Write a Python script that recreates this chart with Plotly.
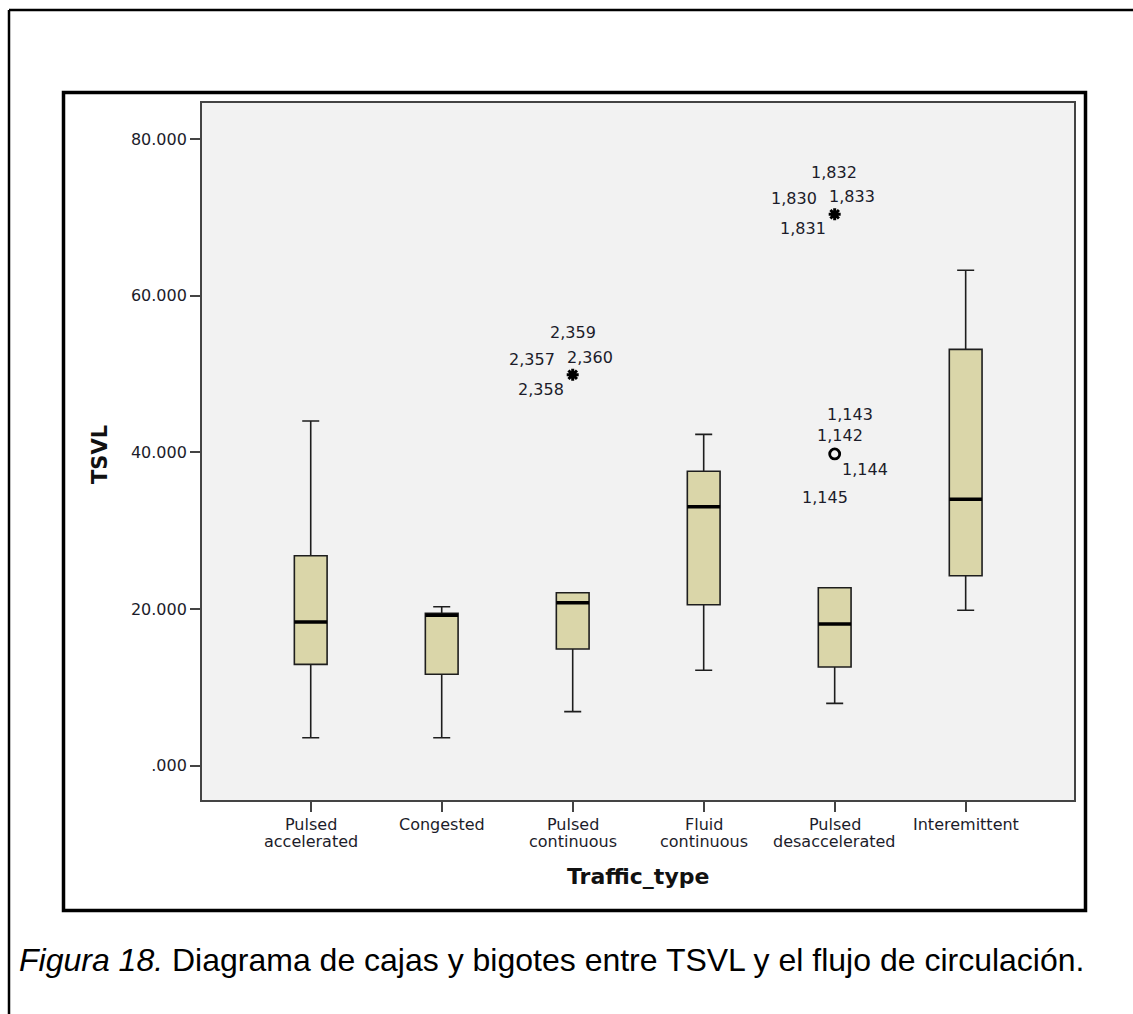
import plotly.graph_objects as go

# ---------------- data ----------------
categories = ["Pulsed accelerated", "Congested", "Pulsed continuous",
              "Fluid continuous", "Pulsed desaccelerated", "Interemittent"]
label_line1 = ["Pulsed", "Congested", "Pulsed", "Fluid", "Pulsed", "Interemittent"]
label_line2 = ["accelerated", "", "continuous", "continuous", "desaccelerated", ""]
lower_whisker = [3.57, 3.57, 6.9, 12.18, 7.96, 19.84]
q1_vals = [12.94, 11.67, 14.9, 20.55, 12.6, 24.25]
median_vals = [18.34, 19.2, 20.8, 33.06, 18.09, 34.0]
q3_vals = [26.8, 19.45, 22.08, 37.58, 22.72, 53.15]
upper_whisker = [44.0, 20.3, 22.08, 42.3, 22.72, 63.24]

outlier_cat = ["Pulsed continuous", "Pulsed desaccelerated", "Pulsed desaccelerated"]
outlier_val = [49.9, 70.4, 39.8]
outlier_kind = ["extreme", "extreme", "mild"]
outlier_ids = [["2,359", "2,357", "2,360", "2,358"],
               ["1,832", "1,830", "1,833", "1,831"],
               ["1,143", "1,142", "1,144", "1,145"]]

y_tickvals = [0, 20, 40, 60, 80]
y_ticktext = [".000", "20.000", "40.000", "60.000", "80.000"]

x_title = "Traffic_type"
y_title = "TSVL"
caption = "<i>Figura 18.</i> Diagrama de cajas y bigotes entre TSVL y el flujo de circulación."

# ---------------- layout helpers ----------------
W, H = 1133, 1014
ML, MR, MT, MB = 202, 59, 103, 214
PW, PH = W - ML - MR, H - MT - MB


def px2x(px):
    return (px - ML) / PW


def py2y(py):
    return (H - MB - py) / PH


pos = list(range(len(categories)))
cat_index = {c: i for i, c in enumerate(categories)}
BOX_W = 0.25
TEXT_COL = "#1c1c2a"

fig = go.Figure()

fig.add_trace(go.Box(
    x=pos, q1=q1_vals, median=median_vals, q3=q3_vals,
    lowerfence=lower_whisker, upperfence=upper_whisker,
    width=BOX_W, whiskerwidth=0.52, boxpoints=False,
    fillcolor="#DAD6A9", line=dict(color="#1e1e1e", width=1.6),
    showlegend=False, hoverinfo="skip",
))

# thick median lines
mx, my = [], []
for p, m in zip(pos, median_vals):
    mx += [p - BOX_W / 2, p + BOX_W / 2, None]
    my += [m, m, None]
fig.add_trace(go.Scatter(x=mx, y=my, mode="lines",
                         line=dict(color="black", width=3.5),
                         showlegend=False, hoverinfo="skip"))

# outliers
for c, v, k in zip(outlier_cat, outlier_val, outlier_kind):
    if k == "extreme":
        marker = dict(symbol="asterisk-open", size=10, color="black",
                      line=dict(color="black", width=3))
    else:
        marker = dict(symbol="circle-open", size=10, color="black",
                      line=dict(color="black", width=2.8))
    fig.add_trace(go.Scatter(x=[cat_index[c]], y=[v], mode="markers",
                             marker=marker, showlegend=False, hoverinfo="skip"))

# outlier id labels (pixel offsets relative to the marker)
label_offsets = [
    [(0, 42), (-41, 15), (17, 17), (-32, -15)],
    [(-1, 42), (-41, 16), (17, 18), (-32, -14)],
    [(15, 39), (5, 18), (30, -16), (-10, -44)],
]
annotations = []
for c, v, ids, offs in zip(outlier_cat, outlier_val, outlier_ids, label_offsets):
    for t, (dx, dy) in zip(ids, offs):
        annotations.append(dict(
            x=cat_index[c], y=v, xref="x", yref="y", text=t, showarrow=False,
            xshift=dx, yshift=dy, xanchor="center", yanchor="middle",
            font=dict(family="DejaVu Sans", size=16, color=TEXT_COL)))

# category labels (two lines, tight line spacing)
for p, l1, l2 in zip(pos, label_line1, label_line2):
    annotations.append(dict(x=p, y=py2y(824), xref="x", yref="paper", text=l1,
                            showarrow=False, xanchor="center", yanchor="middle",
                            font=dict(family="DejaVu Sans", size=16, color=TEXT_COL)))
    if l2:
        annotations.append(dict(x=p, y=py2y(841), xref="x", yref="paper", text=l2,
                                showarrow=False, xanchor="center", yanchor="middle",
                                font=dict(family="DejaVu Sans", size=16, color=TEXT_COL)))

# axis titles
annotations.append(dict(x=px2x(638), y=py2y(877), xref="paper", yref="paper",
                        text=f"<b>{x_title}</b>", showarrow=False,
                        xanchor="center", yanchor="middle",
                        font=dict(family="DejaVu Sans", size=22, color="#111")))
annotations.append(dict(x=px2x(100), y=py2y(455), xref="paper", yref="paper",
                        text=f"<b>{y_title}</b>", showarrow=False, textangle=-90,
                        xanchor="center", yanchor="middle",
                        font=dict(family="DejaVu Sans", size=21, color="#111")))
# caption
annotations.append(dict(x=px2x(17), y=py2y(960), xref="paper", yref="paper",
                        text=caption, showarrow=False,
                        xanchor="left", yanchor="middle",
                        font=dict(family="Liberation Sans, Arial", size=32, color="black")))

shapes = [
    # outer page border (left + top)
    dict(type="line", xref="paper", yref="paper", x0=px2x(9), y0=py2y(10),
         x1=px2x(1200), y1=py2y(10), line=dict(color="black", width=2.5)),
    dict(type="line", xref="paper", yref="paper", x0=px2x(9), y0=py2y(10),
         x1=px2x(9), y1=py2y(1100), line=dict(color="black", width=2.5)),
    # chart frame
    dict(type="rect", xref="paper", yref="paper", x0=px2x(63.5), y0=py2y(92.5),
         x1=px2x(1085.5), y1=py2y(910.5), line=dict(color="black", width=3.5)),
]

fig.update_layout(
    width=W, height=H,
    margin=dict(l=ML, r=MR, t=MT, b=MB, pad=0),
    paper_bgcolor="white", plot_bgcolor="#F2F2F2",
    annotations=annotations, shapes=shapes,
    showlegend=False,
)
fig.update_xaxes(
    range=[-0.83, 5.827], tickvals=pos, showticklabels=False,
    showgrid=False, zeroline=False, showline=True, linecolor="#444", linewidth=1.8,
    mirror=True, ticks="outside", ticklen=10, tickwidth=2, tickcolor="#444",
)
fig.update_yaxes(
    range=[-4.38, 84.6], tickvals=y_tickvals, ticktext=y_ticktext,
    showgrid=False, zeroline=False, showline=True, linecolor="#444", linewidth=1.8,
    mirror=True, ticks="outside", ticklen=10, tickwidth=2, tickcolor="#444",
    tickfont=dict(family="DejaVu Sans", size=16, color=TEXT_COL),
)

fig.write_html("out.html")
